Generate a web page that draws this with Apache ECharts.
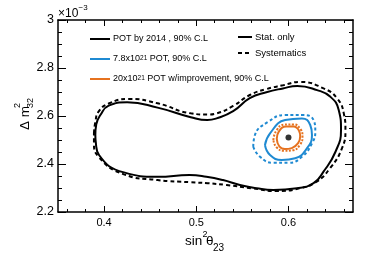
<!DOCTYPE html>
<html>
<head>
<meta charset="utf-8">
<script src="https://cdn.jsdelivr.net/npm/echarts@6/dist/echarts.min.js"></script>
<style>html,body{margin:0;padding:0;background:#fff}#c{width:392px;height:266px}</style>
</head>
<body>
<div id="c"></div>
<script>
// ---- data (x = sin^2 theta23, y = dm^2_32 in 1e-3 eV^2) ----
const black2014Stat = [[0.3905,2.521],[0.3915,2.565],[0.396,2.604],[0.405,2.643],[0.425,2.657],[0.458,2.635],[0.494,2.595],[0.512,2.583],[0.522,2.590],[0.540,2.620],[0.558,2.674],[0.576,2.699],[0.594,2.715],[0.6095,2.725],[0.631,2.708],[0.6455,2.680],[0.6545,2.625],[0.657,2.542],[0.651,2.451],[0.638,2.368],[0.6272,2.320],[0.6091,2.299],[0.5836,2.292],[0.5655,2.299],[0.5473,2.3125],[0.529,2.333],[0.511,2.347],[0.4927,2.354],[0.458,2.347],[0.4215,2.365],[0.3945,2.4375],[0.391,2.490]];
const black2014Syst = [[0.389,2.528],[0.3905,2.575],[0.394,2.618],[0.405,2.652],[0.427,2.671],[0.458,2.653],[0.494,2.611],[0.5124,2.606],[0.522,2.611],[0.540,2.642],[0.558,2.6875],[0.576,2.712],[0.594,2.728],[0.6127,2.742],[0.6381,2.715],[0.6527,2.674],[0.660,2.611],[0.6618,2.542],[0.658,2.465],[0.645,2.382],[0.630,2.325],[0.6127,2.299],[0.5873,2.2875],[0.560,2.299],[0.5328,2.3125],[0.5124,2.320],[0.494,2.324],[0.458,2.333],[0.4215,2.357],[0.394,2.430],[0.389,2.490]];
const blueStat = [[0.5745,2.479],[0.580,2.528],[0.5964,2.583],[0.6146,2.590],[0.6236,2.5625],[0.6255,2.521],[0.620,2.465],[0.6073,2.424],[0.5928,2.4167],[0.580,2.4375]];
const blueSyst = [[0.5618,2.472],[0.5636,2.521],[0.5781,2.576],[0.5964,2.604],[0.6163,2.604],[0.6272,2.583],[0.6291,2.535],[0.6255,2.486],[0.6146,2.430],[0.600,2.405],[0.5836,2.405],[0.5691,2.430]];
const orangeStat = [[0.5873,2.505],[0.5895,2.535],[0.5975,2.556],[0.6055,2.556],[0.6115,2.538],[0.6127,2.515],[0.6105,2.487],[0.6036,2.466],[0.5960,2.462],[0.5900,2.474]];
const orangeSyst = [[0.5836,2.500],[0.5870,2.540],[0.5955,2.564],[0.6055,2.565],[0.6130,2.545],[0.6152,2.515],[0.6125,2.480],[0.6045,2.457],[0.5950,2.455],[0.5870,2.470]];
const bestFit = [[0.600,2.51]];

const xMajorTicks = [0.4, 0.5, 0.6];
const xMinorTicks = [0.36,0.38,0.42,0.44,0.46,0.48,0.52,0.54,0.56,0.58,0.62,0.64,0.66];
const names = ['POT by 2014 , 90% C.L', '7.8x10{s|21} POT, 90% C.L', '20x10{s|21} POT w/improvement, 90% C.L'];
const names2 = ['Stat. only', 'Systematics'];

const FONT = "'Liberation Sans', Arial, Helvetica, sans-serif";
const BLUE = '#1f8ad2', ORANGE = '#e6721f';

function closeLoop(p){ return p.concat([p[0]]); }

const chart = echarts.init(document.getElementById('c'), null, {renderer:'canvas'});

const xBase = {type:'value', min:0.35, max:0.67, gridIndex:0, splitLine:{show:false}};
const yBase = {type:'value', min:2.2, max:3.0, interval:0.2, splitLine:{show:false}};

function line(name, data, color, dash, z){
  return {type:'line', name, data: closeLoop(data), smooth:0.5, symbol:'none', showSymbol:false,
    lineStyle:{color, width:2, type: dash || 'solid'}, itemStyle:{color}, z: z||2, silent:true, animation:false,
    xAxisIndex:0, yAxisIndex:0};
}

// legend built as graphic entries (line sample + label)
function legendEntry(x1, x2, y, color, dash, text, fs){
  return [
    {type:'line', shape:{x1:x1, y1:y, x2:x2, y2:y}, style:{stroke:color, lineWidth:2, lineDash: dash || null}, silent:true},
    {type:'text', x:x2+3, y:y, silent:true, style:{text:text, font:fs+'px '+FONT, fill:'#000', align:'left', verticalAlign:'middle',
      rich:{s:{fontSize:6.5, fontFamily:FONT, fill:'#000', verticalAlign:'top'}}}}
  ];
}

const legendGraphics = [].concat(
  legendEntry(90, 110, 39, '#000', null, names[0], 9),
  legendEntry(90, 110, 59, BLUE, null, names[1], 9),
  legendEntry(90, 110, 79, ORANGE, null, names[2], 9),
  legendEntry(238, 252, 37, '#000', null, names2[0], 9.5),
  legendEntry(238, 252, 53, '#000', [4,3], names2[1], 9.5)
);

chart.setOption({
  animation:false,
  grid:{left:58, right:39, top:20, bottom:54, containLabel:false},
  xAxis:[
    Object.assign({}, xBase, {position:'bottom', axisLine:{show:true, onZero:false, lineStyle:{color:'#000', width:1.5}},
      axisTick:{show:true, inside:true, length:6, lineStyle:{color:'#000', width:1}, customValues:xMajorTicks},
      axisLabel:{show:true, customValues:xMajorTicks, color:'#000', fontSize:11, fontFamily:FONT, margin:5, formatter:v=>v.toFixed(1)}}),
    Object.assign({}, xBase, {position:'bottom', axisLine:{show:false},
      axisTick:{show:true, inside:true, length:3, lineStyle:{color:'#000', width:1}, customValues:xMinorTicks},
      axisLabel:{show:false}}),
    Object.assign({}, xBase, {position:'top', axisLine:{show:true, onZero:false, lineStyle:{color:'#000', width:1.5}},
      axisTick:{show:true, inside:true, length:6, lineStyle:{color:'#000', width:1}, customValues:xMajorTicks},
      axisLabel:{show:false}}),
    Object.assign({}, xBase, {position:'top', axisLine:{show:false},
      axisTick:{show:true, inside:true, length:3, lineStyle:{color:'#000', width:1}, customValues:xMinorTicks},
      axisLabel:{show:false}})
  ],
  yAxis:[
    Object.assign({}, yBase, {position:'left', axisLine:{show:true, onZero:false, lineStyle:{color:'#000', width:1.5}},
      axisTick:{show:true, inside:true, length:8, lineStyle:{color:'#000', width:1}},
      minorTick:{show:true, splitNumber:4, length:4, lineStyle:{color:'#000', width:1}},
      axisLabel:{color:'#000', fontSize:12.5, fontFamily:FONT, margin:4,
        formatter:v=> Math.abs(v-3)<1e-9 ? '3' : v.toFixed(1)}}),
    Object.assign({}, yBase, {position:'right', axisLine:{show:true, onZero:false, lineStyle:{color:'#000', width:1.5}},
      axisTick:{show:true, inside:true, length:8, lineStyle:{color:'#000', width:1}},
      minorTick:{show:true, splitNumber:4, length:4, lineStyle:{color:'#000', width:1}},
      axisLabel:{show:false}})
  ],
  series:[
    line(names[0], black2014Stat, '#000', 'solid', 3),
    line('sys2014', black2014Syst, '#000', [4,3], 3),
    line(names[1], blueStat, BLUE, 'solid', 4),
    line('sysBlue', blueSyst, BLUE, [3,2.5], 4),
    line(names[2], orangeStat, ORANGE, 'solid', 5),
    line('sysOrange', orangeSyst, ORANGE, [2,1.5], 5),
    {type:'scatter', data:bestFit, symbol:'circle', symbolSize:6, itemStyle:{color:'#000'}, z:10, silent:true, xAxisIndex:0, yAxisIndex:0}
  ],
  graphic: legendGraphics.concat([
    {type:'text', x:58, y:14, silent:true, style:{text:'\u00d710', font:'12px '+FONT, fill:'#000', align:'left', verticalAlign:'middle'}},
    {type:'text', x:78.5, y:8, silent:true, style:{text:'\u22123', font:'8px '+FONT, fill:'#000', align:'left', verticalAlign:'middle'}},
    {type:'text', x:185, y:241, silent:true, style:{text:'sin', font:'13.5px '+FONT, fill:'#000', align:'left', verticalAlign:'middle'}},
    {type:'text', x:202.5, y:235, silent:true, style:{text:'2', font:'9px '+FONT, fill:'#000', align:'left', verticalAlign:'middle'}},
    {type:'text', x:206, y:241, silent:true, style:{text:'\u03b8', font:'13.5px '+FONT, fill:'#000', align:'left', verticalAlign:'middle'}},
    {type:'text', x:213, y:248, silent:true, style:{text:'23', font:'10px '+FONT, fill:'#000', align:'left', verticalAlign:'middle'}},
    {type:'group', x:25, y:113, rotation:Math.PI/2, children:[
      {type:'text', x:-17, y:0, silent:true, style:{text:'\u0394 m', font:'13.5px '+FONT, fill:'#000', align:'left', verticalAlign:'middle'}},
      {type:'text', x:5, y:-7, silent:true, style:{text:'2', font:'9px '+FONT, fill:'#000', align:'left', verticalAlign:'middle'}},
      {type:'text', x:5, y:6, silent:true, style:{text:'32', font:'9px '+FONT, fill:'#000', align:'left', verticalAlign:'middle'}}
    ]}
  ])
});
</script>
</body>
</html>
